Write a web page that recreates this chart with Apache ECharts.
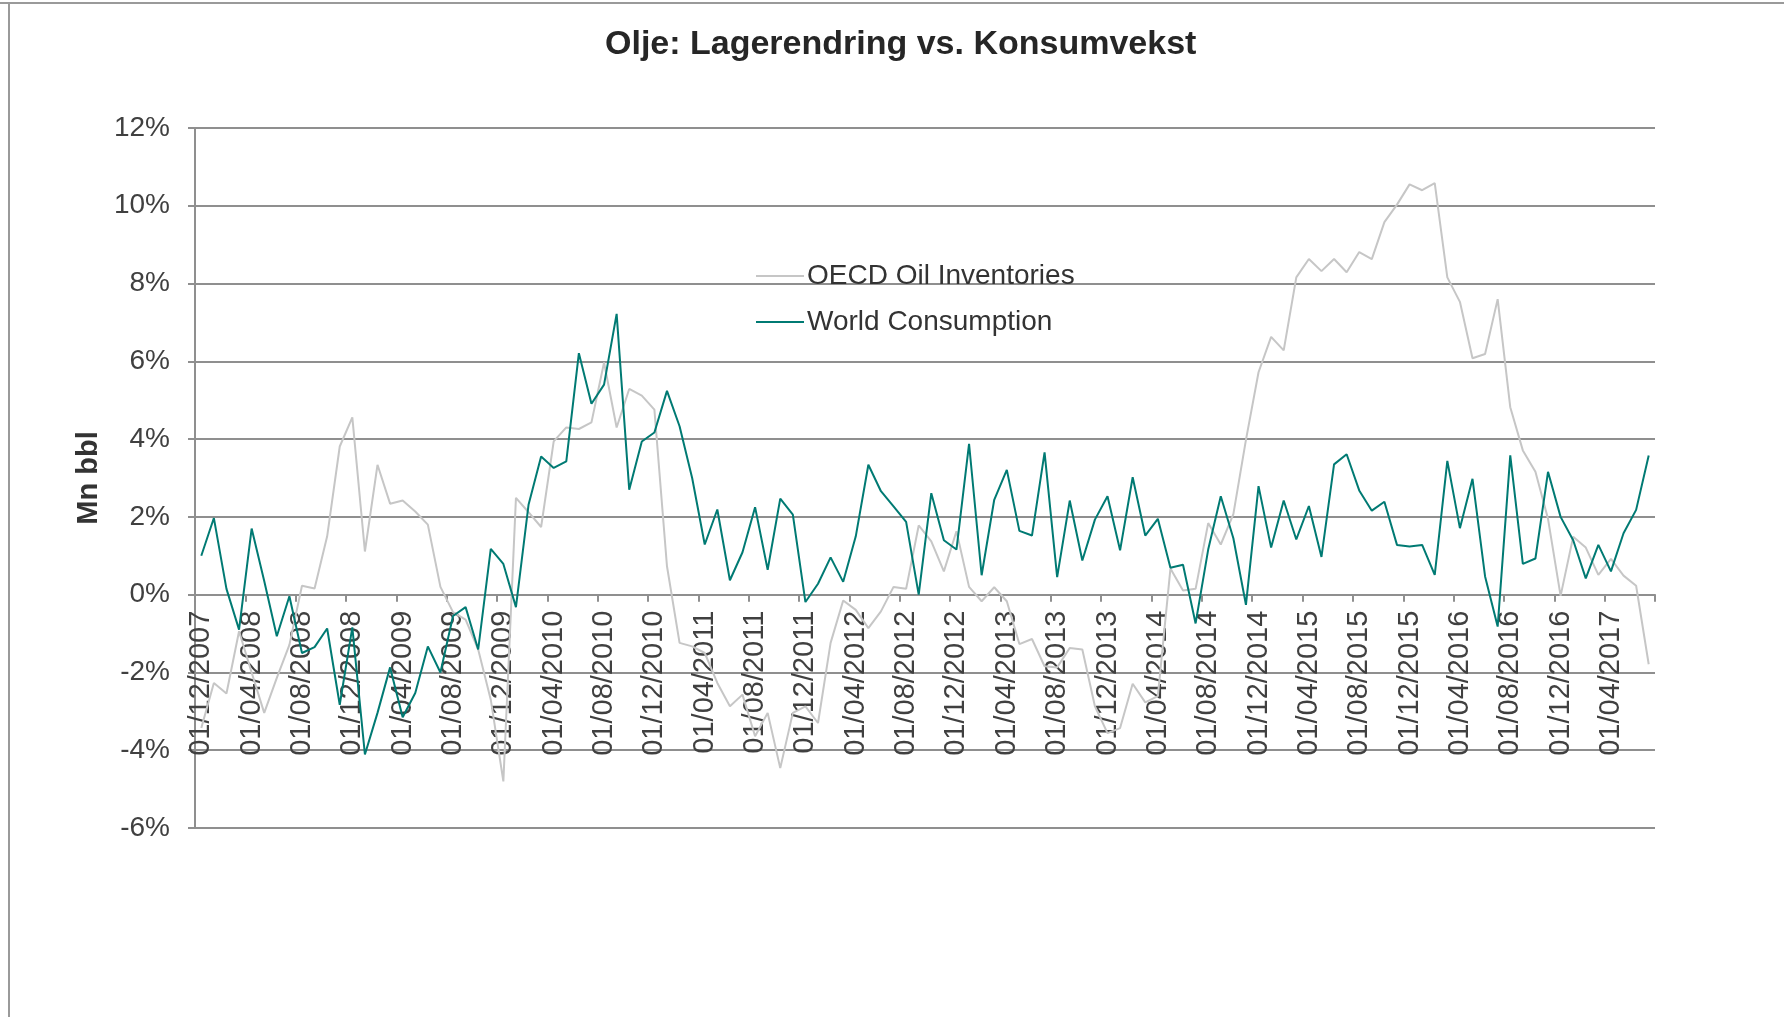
<!DOCTYPE html>
<html>
<head>
<meta charset="utf-8">
<title>Olje: Lagerendring vs. Konsumvekst</title>
<script src="https://cdn.jsdelivr.net/npm/echarts@6/dist/echarts.min.js"></script>
<style>
  html, body { margin: 0; padding: 0; background: #fff; }
  #chart { width: 1784px; height: 1017px; }
</style>
</head>
<body>
<div id="chart"></div>
<script>
// months, 01/12/2007 .. 01/07/2017
var months = [
  "01/12/2007",
  "01/01/2008","01/02/2008","01/03/2008","01/04/2008","01/05/2008","01/06/2008","01/07/2008","01/08/2008","01/09/2008","01/10/2008","01/11/2008","01/12/2008",
  "01/01/2009","01/02/2009","01/03/2009","01/04/2009","01/05/2009","01/06/2009","01/07/2009","01/08/2009","01/09/2009","01/10/2009","01/11/2009","01/12/2009",
  "01/01/2010","01/02/2010","01/03/2010","01/04/2010","01/05/2010","01/06/2010","01/07/2010","01/08/2010","01/09/2010","01/10/2010","01/11/2010","01/12/2010",
  "01/01/2011","01/02/2011","01/03/2011","01/04/2011","01/05/2011","01/06/2011","01/07/2011","01/08/2011","01/09/2011","01/10/2011","01/11/2011","01/12/2011",
  "01/01/2012","01/02/2012","01/03/2012","01/04/2012","01/05/2012","01/06/2012","01/07/2012","01/08/2012","01/09/2012","01/10/2012","01/11/2012","01/12/2012",
  "01/01/2013","01/02/2013","01/03/2013","01/04/2013","01/05/2013","01/06/2013","01/07/2013","01/08/2013","01/09/2013","01/10/2013","01/11/2013","01/12/2013",
  "01/01/2014","01/02/2014","01/03/2014","01/04/2014","01/05/2014","01/06/2014","01/07/2014","01/08/2014","01/09/2014","01/10/2014","01/11/2014","01/12/2014",
  "01/01/2015","01/02/2015","01/03/2015","01/04/2015","01/05/2015","01/06/2015","01/07/2015","01/08/2015","01/09/2015","01/10/2015","01/11/2015","01/12/2015",
  "01/01/2016","01/02/2016","01/03/2016","01/04/2016","01/05/2016","01/06/2016","01/07/2016","01/08/2016","01/09/2016","01/10/2016","01/11/2016","01/12/2016",
  "01/01/2017","01/02/2017","01/03/2017","01/04/2017","01/05/2017","01/06/2017","01/07/2017"
];

// OECD Oil Inventories, % y/y
var oecdInventories = [
  -3.43,
  -2.27, -2.54, -0.94, -2.0, -3.04, -2.14, -1.29, 0.23, 0.16, 1.5, 3.81, 4.56,
  1.11, 3.34, 2.34, 2.42, 2.14, 1.8, 0.2, -0.45, -0.64, -1.41, -2.7, -4.8,
  2.49, 2.12, 1.74, 3.94, 4.30, 4.26, 4.43, 5.97, 4.30, 5.29, 5.12, 4.76,
  0.73, -1.24, -1.33, -1.5, -2.27, -2.87, -2.57, -3.64, -3.04, -4.46, -3.04, -2.87,
  -3.3, -1.24, -0.15, -0.39, -0.86, -0.43, 0.2, 0.15, 1.78, 1.37, 0.6, 1.63,
  0.2, -0.17, 0.19, -0.17, -1.27, -1.14, -1.84, -1.87, -1.37, -1.41, -2.87, -3.56,
  -3.43, -2.29, -2.77, -2.61, 0.67, 0.11, 0.15, 1.84, 1.29, 2.07, 3.98, 5.72,
  6.63, 6.28, 8.16, 8.63, 8.32, 8.63, 8.29, 8.81, 8.63, 9.58, 10.03, 10.55,
  10.4, 10.58, 8.16, 7.53, 6.08, 6.19, 7.6, 4.82, 3.71, 3.16, 1.95, -0.03,
  1.49, 1.21, 0.51, 0.92, 0.49, 0.23, -1.79
];

// World Consumption, % y/y
var worldConsumption = [
  1.0,
  1.97, 0.15, -0.9, 1.70, 0.35, -1.07, -0.04, -1.5, -1.35, -0.87, -2.83, -0.84,
  -4.11, -3.04, -1.87, -3.15, -2.53, -1.33, -2.0, -0.55, -0.32, -1.41, 1.18, 0.79,
  -0.32, 2.31, 3.55, 3.26, 3.43, 6.21, 4.91, 5.40, 7.22, 2.70, 3.94, 4.17,
  5.24, 4.33, 3.0, 1.29, 2.19, 0.37, 1.09, 2.25, 0.64, 2.47, 2.06, -0.19,
  0.28, 0.96, 0.33, 1.5, 3.34, 2.66, 2.27, 1.87, 0.0, 2.61, 1.40, 1.16,
  3.88, 0.5, 2.44, 3.21, 1.64, 1.52, 3.66, 0.45, 2.42, 0.88, 1.93, 2.53,
  1.14, 3.02, 1.52, 1.95, 0.69, 0.77, -0.74, 1.16, 2.53, 1.45, -0.26, 2.79,
  1.21, 2.42, 1.42, 2.28, 0.97, 3.35, 3.61, 2.68, 2.16, 2.39, 1.28, 1.24,
  1.28, 0.51, 3.44, 1.71, 2.98, 0.47, -0.82, 3.58, 0.79, 0.93, 3.16, 2.0,
  1.4, 0.42, 1.28, 0.6, 1.58, 2.18, 3.58
];

var seriesNames = ["OECD Oil Inventories", "World Consumption"];
var lineColors = ["#c6c6c6", "#007a73"];

var font = "'Liberation Sans', Arial, sans-serif";
var chart = echarts.init(document.getElementById("chart"));

// y range and plot box; the month axis sits on the 0% line
var yMin = -6, yMax = 12;
var plotTop = 128, plotBottom = 189, plotHeight = 1017 - plotTop - plotBottom;
var zeroOffset = -(yMin / (yMax - yMin)) * plotHeight;

chart.setOption({
  animation: false,
  backgroundColor: "#ffffff",
  title: {
    text: "Olje: Lagerendring vs. Konsumvekst",
    left: 600,
    top: 23,
    textStyle: { fontFamily: font, fontSize: 34, fontWeight: "bold", color: "#262626" }
  },
  legend: {
    orient: "vertical",
    left: 751,
    top: 257,
    itemWidth: 48,
    itemHeight: 2,
    itemGap: 18,
    icon: "rect",
    data: seriesNames,
    textStyle: { fontFamily: font, fontSize: 28, color: "#333333", padding: [0, 0, 0, -2] }
  },
  grid: { left: 195, right: 129, top: plotTop, bottom: plotBottom, containLabel: false },
  xAxis: {
    type: "category",
    data: months,
    boundaryGap: true,
    offset: -zeroOffset,
    axisLine: { onZero: false, lineStyle: { color: "#8f8f8f", width: 2 } },
    axisTick: { show: true, interval: 3, length: 7, lineStyle: { color: "#8f8f8f", width: 2 } },
    axisLabel: {
      interval: 3,
      rotate: 90,
      margin: 16,
      fontFamily: font,
      fontSize: 29,
      color: "#404040"
    },
    splitLine: { show: false }
  },
  yAxis: {
    type: "value",
    min: yMin,
    max: yMax,
    interval: 2,
    name: "Mn bbl",
    nameLocation: "middle",
    nameRotate: 90,
    nameGap: 85,
    nameTextStyle: { fontFamily: font, fontSize: 29, fontWeight: "bold", color: "#333333" },
    axisLine: { show: true, lineStyle: { color: "#8f8f8f", width: 2 } },
    axisTick: { show: true, length: 7, lineStyle: { color: "#8f8f8f", width: 2 } },
    axisLabel: {
      formatter: "{value}%",
      margin: 25,
      fontFamily: font,
      fontSize: 28,
      color: "#404040"
    },
    splitLine: { show: true, lineStyle: { color: "#8f8f8f", width: 2 } }
  },
  graphic: [
    { type: "line", shape: { x1: 0, y1: 3, x2: 1784, y2: 3 }, style: { stroke: "#9a9a9a", lineWidth: 2 } },
    { type: "line", shape: { x1: 9, y1: 3, x2: 9, y2: 1017 }, style: { stroke: "#9a9a9a", lineWidth: 2 } }
  ],
  series: [
    {
      name: seriesNames[0],
      type: "line",
      data: oecdInventories,
      symbol: "none",
      lineStyle: { color: lineColors[0], width: 2 },
      itemStyle: { color: lineColors[0] },
      z: 2
    },
    {
      name: seriesNames[1],
      type: "line",
      data: worldConsumption,
      symbol: "none",
      lineStyle: { color: lineColors[1], width: 2 },
      itemStyle: { color: lineColors[1] },
      z: 3
    }
  ]
});
</script>
</body>
</html>
